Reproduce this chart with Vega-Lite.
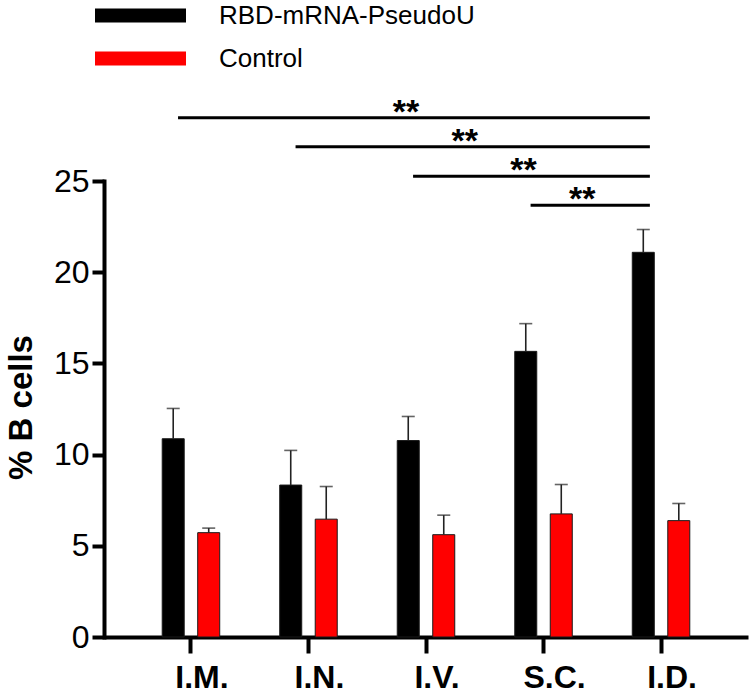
{
  "$schema": "https://vega.github.io/schema/vega-lite/v6.json",
  "width": 644,
  "height": 456,
  "autosize": {"type": "none"},
  "padding": {"left": 104, "top": 181, "right": 2, "bottom": 58},
  "background": "white",
  "config": {"view": {"stroke": null}, "font": "Liberation Sans"},
  "resolve": {"scale": {"xOffset": "independent"}},
  "datasets": {
    "bars": [
      {"route": "I.M.", "group": "RBD-mRNA-PseudoU", "mean": 10.87, "upper": 12.53},
      {"route": "I.M.", "group": "Control", "mean": 5.72, "upper": 5.97},
      {"route": "I.N.", "group": "RBD-mRNA-PseudoU", "mean": 8.33, "upper": 10.23},
      {"route": "I.N.", "group": "Control", "mean": 6.46, "upper": 8.25},
      {"route": "I.V.", "group": "RBD-mRNA-PseudoU", "mean": 10.77, "upper": 12.09},
      {"route": "I.V.", "group": "Control", "mean": 5.61, "upper": 6.68},
      {"route": "S.C.", "group": "RBD-mRNA-PseudoU", "mean": 15.66, "upper": 17.18},
      {"route": "S.C.", "group": "Control", "mean": 6.75, "upper": 8.36},
      {"route": "I.D.", "group": "RBD-mRNA-PseudoU", "mean": 21.09, "upper": 22.34},
      {"route": "I.D.", "group": "Control", "mean": 6.38, "upper": 7.32}
    ],
    "brackets": [
      {"from": "I.M.", "to": "I.D.", "span": 4, "level": 28.47, "label": "**"},
      {"from": "I.N.", "to": "I.D.", "span": 3, "level": 26.88, "label": "**"},
      {"from": "I.V.", "to": "I.D.", "span": 2, "level": 25.26, "label": "**"},
      {"from": "S.C.", "to": "I.D.", "span": 1, "level": 23.67, "label": "**"}
    ]
  },
  "layer": [
    {
      "data": {"name": "bars"},
      "mark": {"type": "bar", "stroke": "#1a1a1a", "strokeWidth": 1},
      "encoding": {
        "x": {
          "field": "route", "type": "nominal",
          "scale": {"domain": ["I.M.", "I.N.", "I.V.", "S.C.", "I.D."], "paddingInner": 0, "paddingOuter": 0.24},
          "axis": {
            "title": null, "labelAngle": 0, "domainWidth": 4, "domainColor": "black",
            "tickWidth": 4, "tickColor": "black", "tickSize": 16,
            "labelFontSize": 32, "labelFontWeight": "bold", "labelColor": "black", "labelPadding": 9, "labelOffset": 11
          }
        },
        "xOffset": {
          "field": "group", "type": "nominal",
          "scale": {"domain": ["RBD-mRNA-PseudoU", "Control"], "paddingInner": 0.38, "paddingOuter": 0.845}
        },
        "y": {
          "field": "mean", "type": "quantitative",
          "scale": {"domain": [0, 25], "nice": false},
          "axis": {
            "title": "% B cells", "values": [0, 5, 10, 15, 20, 25], "grid": false,
            "domainWidth": 4, "domainColor": "black", "domainCap": "square",
            "tickWidth": 4, "tickColor": "black", "tickSize": 12,
            "labelFontSize": 32, "labelColor": "black", "labelPadding": 3,
            "titleFontSize": 33, "titleFontWeight": "bold", "titleColor": "black",
            "titleAngle": -90, "titleX": -73, "titleY": 226, "titleBaseline": "alphabetic", "titleAlign": "center"
          }
        },
        "color": {
          "field": "group", "type": "nominal",
          "scale": {"domain": ["RBD-mRNA-PseudoU", "Control"], "range": ["#000000", "#ff0000"]},
          "legend": {
            "orient": "none", "legendX": 23.5, "legendY": -178.5, "title": null, "padding": 0,
            "symbolType": "M-6.5,-1H6.5V1H-6.5Z", "symbolSize": 196, "symbolStrokeWidth": 0, "symbolOpacity": 1,
            "labelFontSize": 26, "labelColor": "black", "labelOffset": 65.5, "labelLimit": 0, "rowPadding": 17
          }
        }
      }
    },
    {
      "data": {"name": "bars"},
      "mark": {"type": "rule", "color": "#222222", "strokeWidth": 1.6},
      "encoding": {
        "x": {"field": "route", "type": "nominal"},
        "xOffset": {
          "field": "group", "type": "nominal",
          "scale": {"domain": ["RBD-mRNA-PseudoU", "Control"], "paddingInner": 0.38, "paddingOuter": 0.845}
        },
        "y": {"field": "mean", "type": "quantitative"},
        "y2": {"field": "upper"}
      }
    },
    {
      "data": {"name": "bars"},
      "mark": {"type": "tick", "color": "#222222", "thickness": 1.6, "size": 13},
      "encoding": {
        "x": {"field": "route", "type": "nominal"},
        "xOffset": {
          "field": "group", "type": "nominal",
          "scale": {"domain": ["RBD-mRNA-PseudoU", "Control"], "paddingInner": 0.38, "paddingOuter": 0.845}
        },
        "y": {"field": "upper", "type": "quantitative"}
      }
    },
    {
      "data": {"name": "brackets"},
      "mark": {"type": "rule", "color": "black", "strokeWidth": 3},
      "encoding": {
        "x": {"field": "from", "type": "nominal", "bandPosition": 0.39},
        "x2": {"field": "to", "bandPosition": 0.405},
        "y": {"field": "level", "type": "quantitative"}
      }
    },
    {
      "data": {"name": "brackets"},
      "mark": {"type": "text", "fontSize": 34, "fontWeight": "bold", "color": "black", "baseline": "alphabetic", "dy": 5, "dx": -20},
      "encoding": {
        "x": {"field": "from", "type": "nominal"},
        "xOffset": {"field": "span", "type": "quantitative", "scale": {"domain": [0, 4], "range": [58.75, 293.75]}},
        "y": {"field": "level", "type": "quantitative"},
        "text": {"field": "label"}
      }
    }
  ]
}
